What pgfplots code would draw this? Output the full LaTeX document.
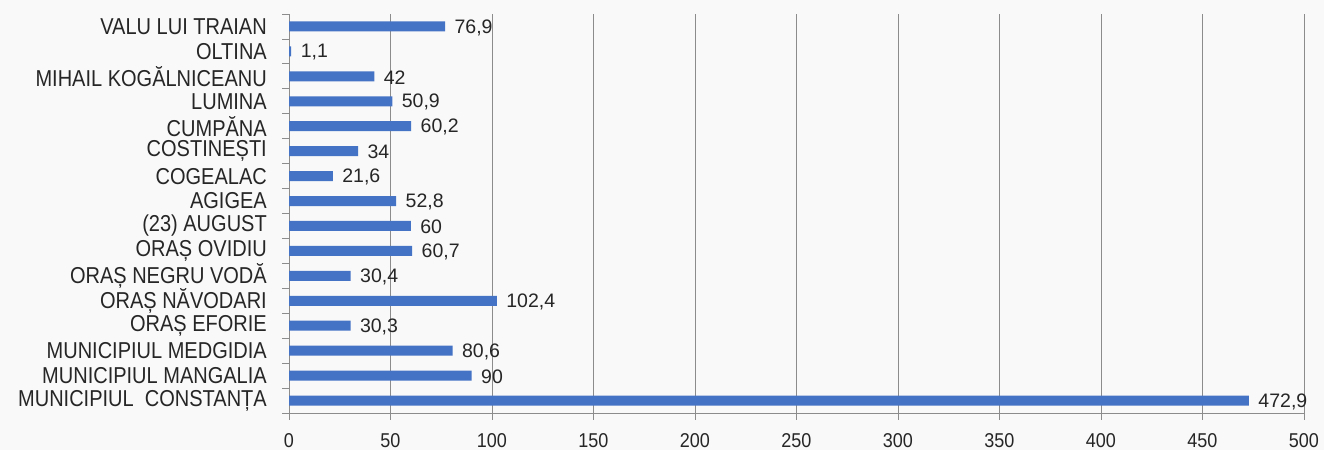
\documentclass[border=0pt]{standalone}
\usepackage{fontspec}
\setmainfont{Liberation Sans}
\newfontfamily\condfont[FakeStretch=0.87]{Liberation Sans}
\newfontfamily\tickfont[FakeStretch=0.9]{Liberation Sans}
\usepackage{pgfplots}
\pgfplotsset{compat=1.18}
\definecolor{barblue}{HTML}{4472C4}
\definecolor{gridgray}{HTML}{8C8C8C}
\definecolor{txt}{HTML}{262626}
\begin{document}
\begin{tikzpicture}
\fill[gray!5] (0,0) rectangle (1324pt,450pt);
\begin{axis}[
  at={(289pt,37pt)}, anchor=south west,
  scale only axis, width=1015pt, height=399pt,
  xbar, bar width=10pt,
  xmin=0, xmax=500, ymin=-0.5, ymax=15.5,
  xtick={0,50,...,500},
  ytick={0.5,1.5,...,15.5},
  yticklabels={MUNICIPIUL\ \ CONSTANȚA, MUNICIPIUL MANGALIA, MUNICIPIUL MEDGIDIA, ORAȘ EFORIE, ORAȘ NĂVODARI, ORAȘ NEGRU VODĂ, ORAȘ OVIDIU, (23) AUGUST, AGIGEA, COGEALAC, COSTINEȘTI, CUMPĂNA, LUMINA, MIHAIL KOGĂLNICEANU, OLTINA, VALU LUI TRAIAN},
  extra y ticks={-0.5}, extra y tick labels={},
  yticklabel style={yshift=-12.47pt, font=\condfont\fontsize{23}{25}\selectfont, text=txt, xshift=-14pt, inner sep=1pt},
  xticklabel style={font=\tickfont\fontsize{20}{22}\selectfont, text=txt, yshift=-10pt},
  axis lines*=left,
  tick align=outside, major tick length=7pt,
  xmajorgrids, grid style={gridgray, line width=0.8pt},
  axis line style={gridgray, line width=0.8pt},
  tick style={gridgray, line width=0.8pt},
  /pgf/number format/assume math mode=true,
  /pgf/number format/use comma,
  nodes near coords,
  every node near coord/.append style={font=\fontsize{19.5}{21}\selectfont, text=txt, anchor=west, xshift=6pt, yshift=-1pt},
]
\addplot[fill=barblue, draw=none] coordinates {
(472.9,0) (90,1) (80.6,2) (30.3,3) (102.4,4) (30.4,5) (60.7,6) (60,7)
(52.8,8) (21.6,9) (34,10) (60.2,11) (50.9,12) (42,13) (1.1,14) (76.9,15)
};
\end{axis}
\end{tikzpicture}
\end{document}
